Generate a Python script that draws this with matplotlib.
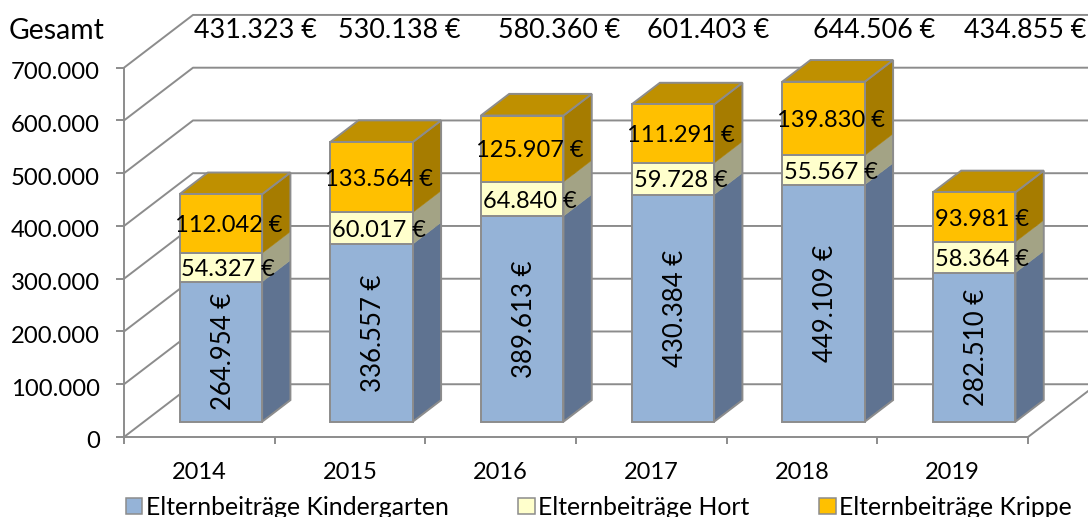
import matplotlib
matplotlib.use("Agg")
import matplotlib.pyplot as plt
from matplotlib.patches import Polygon, Patch
from matplotlib.transforms import ScaledTranslation

years = ["2014", "2015", "2016", "2017", "2018", "2019"]
kindergarten = [264954, 336557, 389613, 430384, 449109, 282510]
hort = [54327, 60017, 64840, 59728, 55567, 58364]
krippe = [112042, 133564, 125907, 111291, 139830, 93981]
gesamt = [431323, 530138, 580360, 601403, 644506, 434855]
y_ticks = [0, 100000, 200000, 300000, 400000, 500000, 600000, 700000]

series_names = ["Elternbeiträge Kindergarten", "Elternbeiträge Hort", "Elternbeiträge Krippe"]
front_colors = ["#95B3D7", "#FFFFCC", "#FFC000"]
side_colors = ["#5F7391", "#A3A385", "#A67C00"]
top_color = "#BF9000"
grey = "#8C8C8C"

# oblique projection of the chart box, depth 1 = back wall
DEPTH_X = 0.458
DEPTH_Y = 100000
BAR_D0, BAR_D1 = 0.29, 0.70
BAR_GAP = 0.226
BAR_SHIFT = 0.01

plt.rcParams["font.family"] = ["Lato", "DejaVu Sans"]


def de(v):
    return f"{v:,}".replace(",", ".")


def proj(x, y, d):
    return x + DEPTH_X * d, y + DEPTH_Y * d


def face(ax, pts, color, edge=None, zorder=3):
    xy = [proj(*p) for p in pts]
    ax.add_patch(Polygon(xy, closed=True, facecolor=color,
                         edgecolor=edge if edge else color,
                         linewidth=1.4 if edge else 0.3,
                         joinstyle="miter", clip_on=False, zorder=zorder))


def draw_walls(ax):
    n = len(years)
    for v in y_ticks:
        # left wall diagonal and back wall line
        a = proj(0, v, 0)
        b = proj(0, v, 1)
        c = proj(n, v, 1)
        ax.plot([a[0], b[0], c[0]], [a[1], b[1], c[1]], color=grey, lw=1.4, clip_on=False, zorder=1)
    a = proj(n, 0, 0)
    b = proj(n, 0, 1)
    ax.plot([a[0], b[0]], [a[1], b[1]], color=grey, lw=1.4, clip_on=False, zorder=1)


def draw_bar(ax, i):
    x0 = i + BAR_GAP + BAR_SHIFT
    x1 = i + 1 - BAR_GAP + BAR_SHIFT
    d0, d1 = BAR_D0, BAR_D1
    base = 0
    vals = [kindergarten[i], hort[i], krippe[i]]
    # side faces first, outline of the whole side afterwards
    for v, col in zip(vals, side_colors):
        top = base + v
        face(ax, [(x1, base, d0), (x1, base, d1), (x1, top, d1), (x1, top, d0)], col)
        base = top
    face(ax, [(x1, 0, d0), (x1, 0, d1), (x1, top, d1), (x1, top, d0)], "none", edge=grey, zorder=4)
    face(ax, [(x0, top, d0), (x0, top, d1), (x1, top, d1), (x1, top, d0)], top_color, edge=grey, zorder=4)
    base = 0
    for j, (v, col) in enumerate(zip(vals, front_colors)):
        top = base + v
        face(ax, [(x0, base, d0), (x1, base, d0), (x1, top, d0), (x0, top, d0)], col, edge=grey, zorder=5)
        cx, cy = proj((x0 + x1) / 2, base + v / 2, d0)
        if j == 0:
            ax.text(cx + 0.016, cy, de(v) + " €", rotation=90, ha="center", va="center",
                    fontsize=18.5, color="black", zorder=6)
        else:
            ax.text(cx + 0.05, cy, de(v) + " €", ha="center", va="center_baseline",
                    fontsize=17.0, color="black", zorder=6)
        base = top


def main():
    fig = plt.figure(figsize=(10.88, 5.17), dpi=100)
    ax = fig.add_axes([124 / 1088, (517 - 437) / 517, 904 / 1088, 369.3 / 517])
    ax.set_xlim(0, len(years))
    ax.set_ylim(0, 700000)
    ax.patch.set_alpha(0)

    for s in ["top", "right"]:
        ax.spines[s].set_visible(False)
    for s in ["left", "bottom"]:
        ax.spines[s].set_color(grey)
        ax.spines[s].set_linewidth(1.4)
        ax.spines[s].set_zorder(2)

    ax.set_yticks(y_ticks)
    ax.set_yticklabels([de(v) for v in y_ticks], fontsize=17.2)
    ax.tick_params(axis="y", length=5.5, width=1.4, color=grey, pad=12)
    # labels sit a bit low in the original
    nudge = ScaledTranslation(0, -3 / 100, fig.dpi_scale_trans)
    for lab in ax.get_yticklabels():
        lab.set_transform(lab.get_transform() + nudge)

    ax.set_xticks(range(len(years) + 1))
    ax.set_xticklabels([])
    ax.tick_params(axis="x", length=5, width=1.4, color=grey)
    ax.set_xticks([i + 0.5 for i in range(len(years))], minor=True)
    ax.set_xticklabels(years, minor=True, fontsize=17.0)
    ax.tick_params(axis="x", which="minor", length=0, pad=18)

    draw_walls(ax)
    for i in range(len(years)):
        draw_bar(ax, i)

    # totals row above the chart
    total_x = [0.87, 1.83, 2.89, 3.88, 4.98, 5.98]
    for x, v in zip(total_x, gesamt):
        ax.text(x, 775000, de(v) + " €", ha="center", va="center_baseline", fontsize=19.4, clip_on=False, zorder=6)
    ax.text(-0.445, 775000, "Gesamt", ha="center", va="center_baseline", fontsize=20.4, clip_on=False)

    handles = [Patch(facecolor=c, edgecolor=grey, linewidth=1.1) for c in front_colors]
    ax.legend(handles, series_names, ncol=3, frameon=False, fontsize=17.8,
              loc="center left", bbox_to_anchor=(0.002, -0.19),
              handlelength=0.66, handleheight=0.66, handletextpad=0.14,
              columnspacing=2.83, borderpad=0, borderaxespad=0)

    fig.savefig("out.png", dpi=100)


if __name__ == "__main__":
    main()
